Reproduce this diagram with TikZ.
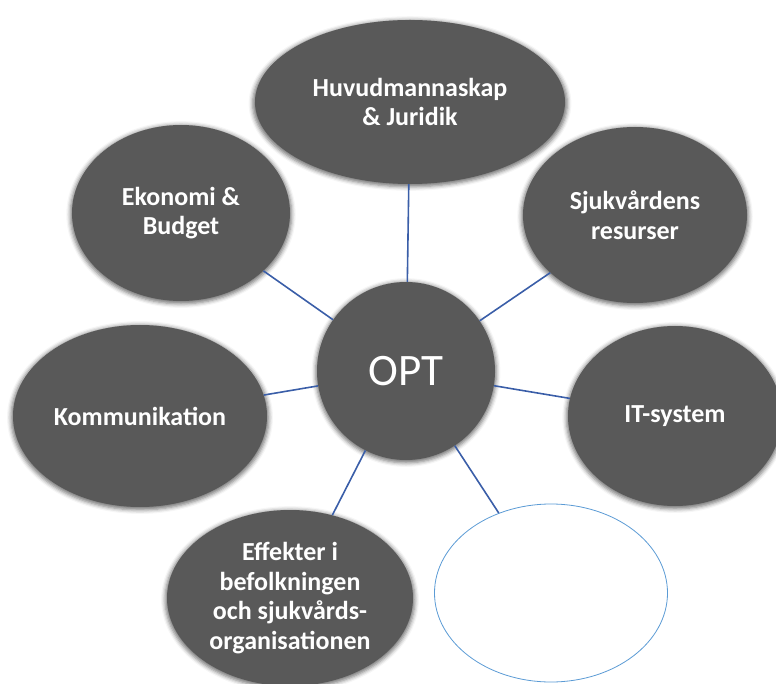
\documentclass[tikz,border=0pt]{standalone}
\usepackage{fontspec}
\setmainfont{Carlito}
\usetikzlibrary{shapes.geometric,shadows.blur}
\definecolor{bubble}{HTML}{595959}
\definecolor{link}{HTML}{3A5EA8}
\definecolor{rim}{HTML}{5B9BD5}
\begin{document}
\begin{tikzpicture}[x=1pt,y=-1pt,
  bub/.style={ellipse, fill=bubble, inner sep=0pt, text=white, align=center,
    font=\fontsize{26}{29.5}\selectfont\bfseries,
    blur shadow={shadow xshift=0pt, shadow yshift=-1.5pt, shadow blur radius=4pt, shadow opacity=55, shadow scale=1.015}},
  conn/.style={draw=link, line width=1.6pt}]
\useasboundingbox (0,0) rectangle (776,684);
\node[bub, minimum width=310pt, minimum height=164pt] (hj) at (410,102) {Huvudmannaskap\\\& Juridik};
\node[bub, minimum width=218pt, minimum height=176pt] (ek) at (181,213) {Ekonomi \&\\Budget};
\node[bub, minimum width=224pt, minimum height=176pt] (sj) at (635,215) {Sjukvårdens\\resurser};
\node[bub, minimum width=254pt, minimum height=182pt] (ko) at (140,416) {Kommunikation};
\node[bub, minimum width=214pt, minimum height=180pt] (it) at (675,416) {IT-system};
\node[bub, minimum width=246pt, minimum height=176pt] (ef) at (290,598) {Effekter i\\befolkningen\\och sjukvårds-\\organisationen};
\node[ellipse, draw=rim, line width=0.8pt, fill=white, minimum width=233pt, minimum height=178pt] (em) at (551,593) {};
\node[circle, fill=bubble, inner sep=0pt, minimum size=178pt, text=white,
  font=\fontsize{45}{50}\selectfont,
  blur shadow={shadow xshift=0pt, shadow yshift=-1.5pt, shadow blur radius=4pt, shadow opacity=55, shadow scale=1.015}] (opt) at (406,371) {OPT};
\draw[conn] (opt) -- (hj);
\draw[conn] (opt) -- (ek);
\draw[conn] (opt) -- (sj);
\draw[conn] (opt) -- (ko);
\draw[conn] (opt) -- (it);
\draw[conn] (opt) -- (ef);
\draw[conn] (opt) -- (em);
\end{tikzpicture}
\end{document}
